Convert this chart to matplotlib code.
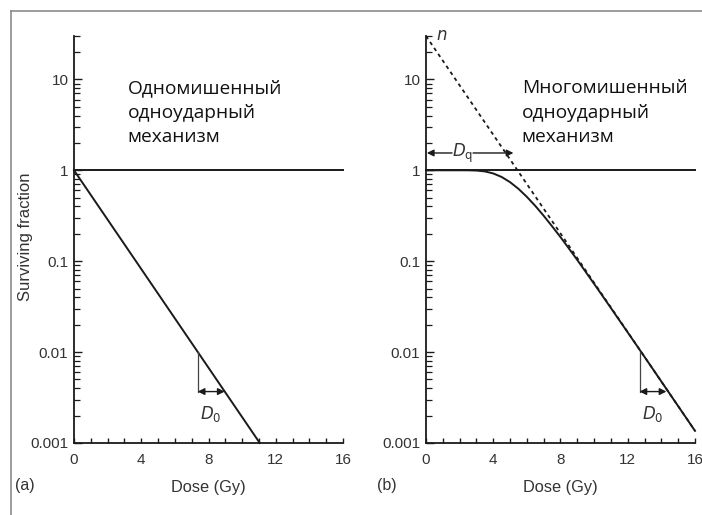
import matplotlib
matplotlib.use("Agg")
import matplotlib.pyplot as plt
from matplotlib.lines import Line2D
from matplotlib.ticker import FixedLocator, LogLocator, NullFormatter, FuncFormatter

# --- data ---
# (a) single-target single-hit
dose_a = [0, 11.05]
surv_a = [1, 0.001]
d0_a_start = 7.36        # Gy, where the D0 bracket starts (S = 0.01)
d0_a_width = 1.6         # Gy

# (b) multi-target single-hit, read at 0.5 Gy steps
dose_b = [0, 0.5, 1, 1.5, 2, 2.5, 3, 3.5, 4, 4.5, 5, 5.5, 6, 6.5, 7, 7.5, 8,
          8.5, 9, 9.5, 10, 10.5, 11, 11.5, 12, 12.5, 13, 13.5, 14, 14.5, 15,
          15.5, 16]
surv_b = [1, 1, 1, 1, 1.0, 0.999, 0.993, 0.972, 0.923, 0.844, 0.740, 0.625,
          0.510, 0.406, 0.316, 0.242, 0.184, 0.138, 0.103, 0.0762, 0.0563,
          0.0415, 0.0305, 0.0224, 0.01645, 0.01207, 0.00885, 0.00648,
          0.00474, 0.00347, 0.00254, 0.00186, 0.00136]
dose_b_asym = [0, 16]
surv_b_asym = [30, 0.00136]   # extrapolation number n ~ 30
dq = 5.2
d0_b_start = 12.7
d0_b_width = 1.6

shoulder_level = [1, 1]
dose_full = [0, 16]

y_major = [0.001, 0.01, 0.1, 1, 10]
y_labels = {0.001: "0.001", 0.01: "0.01", 0.1: "0.1", 1: "1", 10: "10"}
x_major = [0, 4, 8, 12, 16]

label_a = "Одномишенный\nодноударный\nмеханизм"
label_b = "Многомишенный\nодноударный\nмеханизм"

plt.rcParams['font.family'] = ['Liberation Sans', 'DejaVu Sans']
plt.rcParams['xtick.direction'] = 'in'
plt.rcParams['ytick.direction'] = 'in'
tick_col = "#333333"
line_col = "#1a1a1a"

fig = plt.figure(figsize=(7.02, 5.15), dpi=100)
ax_a = fig.add_axes([74 / 702, 1 - 443 / 515, 269 / 702, 407 / 515])
ax_b = fig.add_axes([426 / 702, 1 - 443 / 515, 269 / 702, 407 / 515])

for ax in (ax_a, ax_b):
    ax.set_yscale("log")
    ax.set_xlim(0, 16)
    ax.set_ylim(0.001, 30)
    for s in ("top", "right"):
        ax.spines[s].set_visible(False)
    for s in ("left", "bottom"):
        ax.spines[s].set_linewidth(1.3)
        ax.spines[s].set_color(line_col)
    ax.yaxis.set_major_locator(FixedLocator(y_major))
    ax.yaxis.set_major_formatter(FuncFormatter(lambda v, p: y_labels.get(round(v, 3), "")))
    ax.yaxis.set_minor_locator(LogLocator(base=10, subs=range(2, 10), numticks=20))
    ax.yaxis.set_minor_formatter(NullFormatter())
    ax.xaxis.set_major_locator(FixedLocator(x_major))
    ax.xaxis.set_minor_locator(FixedLocator(range(0, 17)))
    ax.tick_params(axis="y", which="major", direction="in", length=5.5, width=1.0,
                   color=line_col, labelsize=11, labelcolor=tick_col, pad=4,
                   left=True, right=False)
    ax.tick_params(axis="y", which="minor", direction="in", length=4, width=0.9,
                   color=line_col, left=True, right=False)
    ax.tick_params(axis="x", which="both", direction="in", length=3.5, width=1.0,
                   color=line_col, labelsize=11, labelcolor=tick_col, pad=7,
                   bottom=True, top=False)
    ax.set_xlabel("Dose (Gy)", fontsize=11.8, color=tick_col)
    ax.xaxis.set_label_coords(0.5, -37 / 407)
    ax.plot(dose_full, shoulder_level, color=line_col, lw=1.4, clip_on=False)

ax_a.set_ylabel("Surviving fraction", fontsize=12, color=tick_col)
ax_a.yaxis.set_label_coords(-41 / 269, 0.506)

# panel (a)
ax_a.plot(dose_a, surv_a, color=line_col, lw=1.4, clip_on=False)
y_top, y_bot = 0.01, 0.01 / 2.718
ax_a.plot([d0_a_start, d0_a_start], [y_top, y_bot], color="#444444", lw=0.9)
ax_a.annotate("", xy=(d0_a_start + d0_a_width, y_bot), xytext=(d0_a_start, y_bot),
              arrowprops=dict(arrowstyle="<|-|>", color=line_col, lw=1.0,
                              shrinkA=0, shrinkB=0, mutation_scale=10))
ax_a.text(d0_a_start + d0_a_width / 2, 0.0021, "$D_0$", fontsize=12, ha="center",
          va="center", color=tick_col)
ax_a.text(3.2, 4.3, label_a, fontsize=13.8, family=["Open Sans", "DejaVu Sans"],
          va="center", ha="left", linespacing=1.45, color="#111111")
ax_a.text(-0.145, -0.105, "(a)", transform=ax_a.transAxes, fontsize=11.5,
          color=tick_col, ha="right", va="center")

# panel (b)
ax_b.plot(dose_b_asym, surv_b_asym, color=line_col, lw=1.3, ls=(0, (2, 2)),
          clip_on=False)
ax_b.plot(dose_b, surv_b, color=line_col, lw=1.4, clip_on=False)
ax_b.text(0.6, 30, "$n$", fontsize=12, ha="left", va="center", color=tick_col)
y_dq = 1.55
ax_b.annotate("", xy=(0.05, y_dq), xytext=(1.55, y_dq),
              arrowprops=dict(arrowstyle="-|>", color=line_col, lw=1.0,
                              shrinkA=0, shrinkB=0, mutation_scale=10))
ax_b.annotate("", xy=(dq, y_dq), xytext=(2.8, y_dq),
              arrowprops=dict(arrowstyle="-|>", color=line_col, lw=1.0,
                              shrinkA=0, shrinkB=0, mutation_scale=10))
ax_b.text(2.2, y_dq, "$D_\\mathrm{q}$", fontsize=12, ha="center", va="center",
          color=tick_col)
ax_b.plot([d0_b_start, d0_b_start], [y_top, y_bot], color="#444444", lw=0.9)
ax_b.annotate("", xy=(d0_b_start + d0_b_width, y_bot), xytext=(d0_b_start, y_bot),
              arrowprops=dict(arrowstyle="<|-|>", color=line_col, lw=1.0,
                              shrinkA=0, shrinkB=0, mutation_scale=10))
ax_b.text(d0_b_start + d0_b_width / 2, 0.0021, "$D_0$", fontsize=12, ha="center",
          va="center", color=tick_col)
ax_b.text(5.7, 4.3, label_b, fontsize=13.8, family=["Open Sans", "DejaVu Sans"],
          va="center", ha="left", linespacing=1.45, color="#111111")
ax_b.text(-0.11, -0.105, "(b)", transform=ax_b.transAxes, fontsize=11.5,
          color=tick_col, ha="right", va="center")

# slide frame lines
fig.add_artist(Line2D([11 / 702, 1], [1 - 11 / 515, 1 - 11 / 515], color="#8c8c8c", lw=1.2))
fig.add_artist(Line2D([11 / 702, 11 / 702], [0, 1 - 11 / 515], color="#8c8c8c", lw=1.2))

fig.savefig("out.png", dpi=100)
